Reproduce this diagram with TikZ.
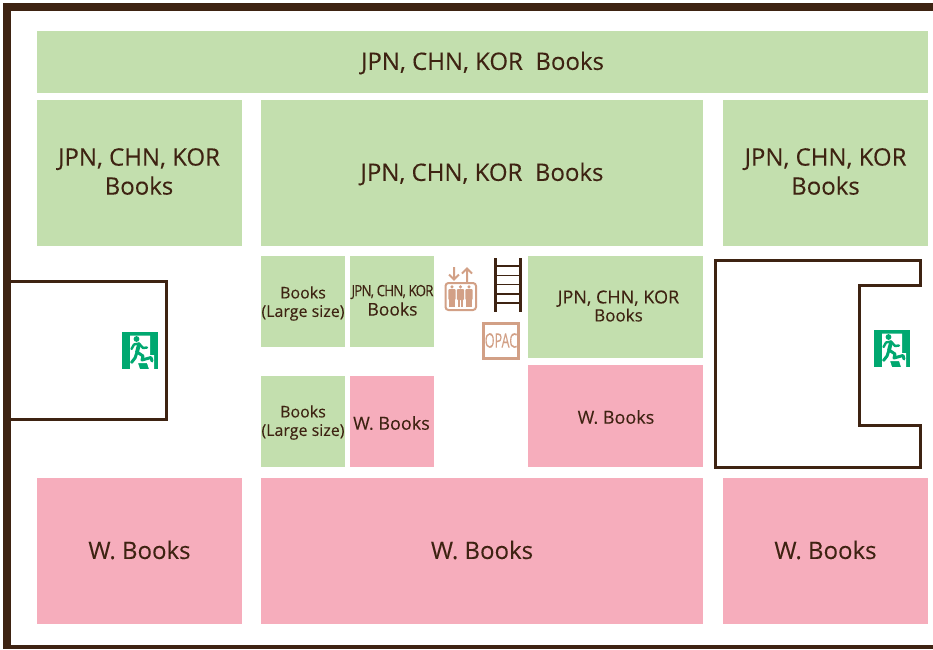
\documentclass[tikz,border=0pt]{standalone}
\usepackage{fontspec}
\usetikzlibrary{calc}
\setmainfont[FakeBold=0.12]{Open Sans}
\definecolor{gbox}{HTML}{C3DFAE}
\definecolor{pbox}{HTML}{F6ADBC}
\definecolor{wall}{HTML}{3E2312}
\definecolor{liftc}{HTML}{D2A086}
\definecolor{exitg}{HTML}{00A870}
\tikzset{
 x=1pt,y=-1pt,
 shelf/.style={anchor=north west,inner sep=0pt,outer sep=0pt,align=center,text=wall,font=\fontsize{24}{29}\selectfont},
 smalltext/.style={font=\fontsize{16}{18.5}\selectfont},
 midtext/.style={font=\fontsize{18}{18}\selectfont},
 wallline/.style={draw=wall,line width=3pt,fill=white,line join=miter},
 lift/.style={draw=liftc,line width=2pt},
}
\newcommand{\shelfbox}[6]{\node[shelf,fill=#1,minimum width=#4pt,minimum height=#5pt] (#6) at (#2,#3) {};}
\newcommand{\exitsign}[2]{%
 \begin{scope}[shift={(#1,#2)}]
  \fill[exitg] (0,0) rectangle (36,37);
  \fill[white] (8,3.5) -- (28,3.5) -- (28,23) -- (32,23) -- (32,37) -- (27,37) -- (25,31) -- (16,31) -- (18,37) -- (8,37) -- cycle;
  \fill[exitg] (14.5,7) circle (2.9);
  \draw[exitg,line width=3.8pt,line cap=round,line join=round] (17,12.5) -- (15,20);
  \draw[exitg,line width=2.4pt,line cap=round,line join=round] (17,11.5) -- (12,12.5) -- (9.5,17);
  \draw[exitg,line width=2.4pt,line cap=round,line join=round] (17,11.5) -- (21,16) -- (25,15.5);
  \draw[exitg,line width=3pt,line cap=round,line join=round] (15,20) -- (21,24) -- (20,28) -- (29,25.5) -- (30,29);
  \draw[exitg,line width=3pt,line cap=round,line join=round] (15,20) -- (13,26) -- (9.5,30.5);
  \fill[white] (8,31) -- (12,33) -- (8,37) -- cycle;
 \end{scope}}
\begin{document}
\begin{tikzpicture}
\useasboundingbox (0,0) rectangle (933,649);
\fill[white] (0,0) rectangle (933,649);
% outer wall
\fill[wall] (3,3) rectangle (933,11);
\fill[wall] (3,3) rectangle (11,649);
\fill[wall] (3,645) rectangle (933,649);
% green shelves
\shelfbox{gbox}{37}{31}{891}{62}{g1}
\shelfbox{gbox}{37}{100}{205}{146}{g2}
\shelfbox{gbox}{261}{100}{442}{146}{g3}
\shelfbox{gbox}{723}{100}{205}{146}{g4}
\shelfbox{gbox}{261}{256}{84}{91}{g5}
\shelfbox{gbox}{350}{256}{84}{91}{g6}
\shelfbox{gbox}{528}{256}{175}{102}{g7}
\shelfbox{gbox}{261}{376}{84}{91}{g8}
% pink shelves
\shelfbox{pbox}{350}{376}{84}{91}{p1}
\shelfbox{pbox}{528}{365}{175}{102}{p2}
\shelfbox{pbox}{37}{478}{205}{146}{p3}
\shelfbox{pbox}{261}{478}{442}{146}{p4}
\shelfbox{pbox}{723}{478}{205}{146}{p5}
% labels
\node[shelf,anchor=center] (t1) at ($(g1.center)+(0,1)$) {JPN, CHN, KOR\ \ Books};
\node[shelf,anchor=center] (t2) at (139,171.5) {JPN, CHN, KOR\\Books};
\node[shelf,anchor=center] (t3) at ($(g3.center)+(0,1)$) {JPN, CHN, KOR\ \ Books};
\node[shelf,anchor=center] (t4) at (825.5,171.5) {JPN, CHN, KOR\\Books};
\node[shelf,smalltext,anchor=center] (t5) at (303,303.5) {Books\\(Large size)};
\node[shelf,anchor=center,font=\fontsize{17.5}{20}\selectfont] (t6) at (392.5,309) {Books};
\node[shelf,anchor=center,font=\fontsize{15.5}{16}\selectfont] (t6b) at (392.5,292) {\scalebox{.86}[1]{\addfontfeature{LetterSpace=-6}JPN, CHN, KOR}};
\node[shelf,midtext,anchor=center] (t7) at (618.5,306) {JPN, CHN, KOR\\\fontsize{17}{18}\selectfont Books};
\node[shelf,smalltext,anchor=center] (t8) at (303,422.5) {Books\\(Large size)};
\node[shelf,midtext,anchor=center] (t9) at (391.5,423) {W. Books};
\node[shelf,midtext,anchor=center] (t10) at (616,417) {W. Books};
\node[shelf,anchor=center] (t11) at ($(p3.center)+(0,-1)$) {W. Books};
\node[shelf,anchor=center] (t12) at ($(p4.center)+(0,-1)$) {W. Books};
\node[shelf,anchor=center] (t13) at ($(p5.center)+(0,-1)$) {W. Books};
% stair rooms
\draw[wallline] (11,281) -- (166,281) -- (166,419) -- (11,419);
\draw[wallline] (715.5,260) -- (715.5,467) -- (920,467) -- (920,425) -- (859.5,425) -- (859.5,285.5) -- (920,285.5) -- (920,260) -- cycle;
\exitsign{122}{332}
\exitsign{874}{330}
% elevator
\draw[lift,rounded corners=3pt] (445.5,283) rectangle (476,310);
\foreach \px in {452,460.5,469}{
 \fill[liftc] (\px,286.8) circle (1.7);
 \fill[liftc,rounded corners=1pt] (\px-3.6,289) rectangle (\px+3.6,300);
 \fill[liftc] (\px-2.6,300) rectangle (\px-.4,307);
 \fill[liftc] (\px+.4,300) rectangle (\px+2.6,307);
}
\draw[lift] (454,267) -- (454,279) (449,274.5) -- (454,279.5) -- (459,274.5);
\draw[lift] (467,282) -- (467,269) (462,273.5) -- (467,268.5) -- (472,273.5);
% ladder
\draw[wall,line width=3pt] (495,258) -- (495,312) (520,258) -- (520,312);
\foreach \ry in {266,275.5,284.5,294,303}{\draw[wall,line width=1.6pt] (495,\ry) -- (520,\ry);}
% OPAC
\node[draw=liftc,line width=3pt,fill=white,minimum width=35pt,minimum height=35pt,inner sep=0pt,text=liftc,font=\fontsize{20}{20}\selectfont] (opac) at (501,340.5) {\scalebox{.63}[1]{OPAC}};
\end{tikzpicture}
\end{document}
